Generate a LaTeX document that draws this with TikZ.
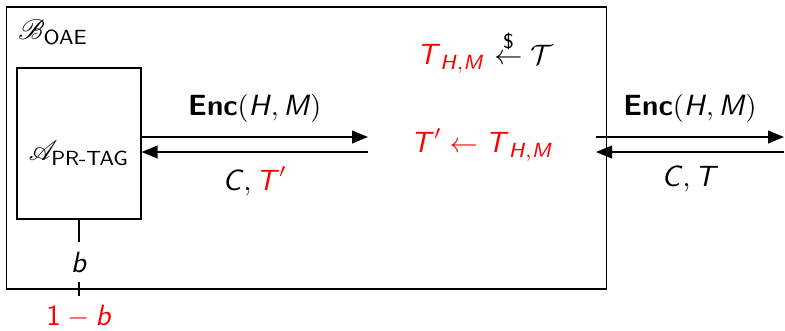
\documentclass[tikz,border=0pt]{standalone}
\usepackage{amsmath}
\usepackage{mathrsfs}
\usetikzlibrary{arrows.meta}
% sans italic letters set as text
\newcommand{\sv}[1]{\text{\textit{#1}}}
\newcommand{\tagHM}{\sv{T}_{\sv{H},\sv{M}}}
\begin{document}
\begin{tikzpicture}[
        x=0.0125cm, y=-0.0125cm,
        font=\sffamily\fontsize{10.4}{12.5}\selectfont,
        frame/.style={
          draw,
          inner sep=0pt
        },
        msg/.style={
          -{Triangle[length=2mm,width=1.6mm]},
          line width=0.5pt
        }
      ]
      \useasboundingbox (0,0) rectangle (785,330);
      \node[frame, minimum width=7.49cm, minimum height=3.525cm] (reduction) at (306.5,148) {};
      \node (redname) at (53,32) {$\mathscr{B}_{\text{OAE}}$};
      \node[frame, minimum width=1.55cm, minimum height=1.8875cm] (advbox) at (79,143.5) {};
      \node (advname) at (79,153) {$\mathscr{A}_{\text{PR-TAG}}$};

      \node (sample) at (485,52) {\textcolor{red}{$\tagHM$} $\stackrel{\text{\$}}{\leftarrow} \mathcal{T}$};
      \node[text=red] (assign) at (482,145) {$\sv{T}' \leftarrow \tagHM$};

      \coordinate (qin) at (368,137);
      \coordinate (ain) at (368,152);
      \coordinate (qout) at (596,137);
      \coordinate (aout) at (596,152);
      \coordinate (qend) at (784,137);
      \coordinate (aend) at (784,152);

      \draw[msg] (advbox.east |- qin) -- (qin)
        node[midway, above=1.5pt] (encin) {\textbf{Enc}$(\sv{H}, \sv{M})$};
      \draw[msg] (ain) -- (advbox.east |- ain)
        node[midway, below=1.5pt] (ansin) {$\sv{C}, \textcolor{red}{\sv{T}'}$};
      \draw[msg] (qout) -- (qend)
        node[midway, above=1.5pt] (encout) {\textbf{Enc}$(\sv{H}, \sv{M})$};
      \draw[msg] (aend) -- (aout)
        node[midway, below=1.5pt] (ansout) {$\sv{C}, \sv{T}$};

      \node (bit) at (79,262) {$\sv{b}$};
      \node[text=red] (flip) at (79,317) {$\text{1} - \sv{b}$};
      \draw[line width=0.5pt] (advbox.south) -- (bit.north);
      \draw[line width=0.5pt] (bit.south) -- (flip.north);
    \end{tikzpicture}
\end{document}
